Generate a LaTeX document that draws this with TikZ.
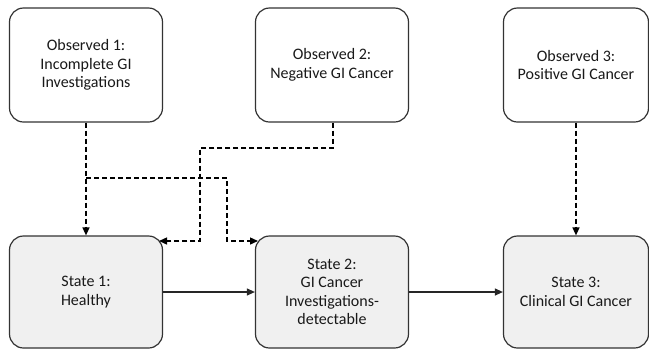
\documentclass[tikz,border=0pt]{standalone}
\usepackage{fontspec}
\setmainfont{Carlito}
\usetikzlibrary{arrows.meta}
\begin{document}
\begin{tikzpicture}[x=1pt,y=-1pt,
  box/.style={draw=black!80, line width=1.2pt, rounded corners=14pt, align=center,
    font=\fontsize{16}{18.5}\selectfont, inner sep=2pt, text=black!90},
  obs/.style={box, fill=white},
  st/.style={box, fill=black!6},
  dashline/.style={draw=black, line width=1.4pt, dash pattern=on 5pt off 3pt},
  tip/.style={-{Triangle[length=8pt,width=7pt]}},
  conn/.style={draw=black!85, line width=1.1pt}]
\useasboundingbox (0,0) rectangle (649,349);
\node[obs, minimum width=153pt, minimum height=114pt] (o1) at (86,65) {Observed 1:\\Incomplete GI\\Investigations};
\node[obs, minimum width=153pt, minimum height=114pt] (o2) at (332,65) {Observed 2:\\Negative GI Cancer};
\node[obs, minimum width=145pt, minimum height=114pt] (o3) at (576,65) {Observed 3:\\Positive GI Cancer};
\node[st, minimum width=153pt, minimum height=112pt] (s1) at (86,292) {State 1:\\Healthy};
\node[st, minimum width=153pt, minimum height=112pt] (s2) at (332,292) {State 2:\\GI Cancer\\Investigations-\\detectable};
\node[st, minimum width=145pt, minimum height=112pt] (s3) at (576,292) {State 3:\\Clinical GI Cancer};
\coordinate (b1) at (86,178);
\coordinate (b2) at (227,178);
\coordinate (b3) at (227,241);
\coordinate (e2) at (258,241);
\coordinate (c1) at (333,148);
\coordinate (c2) at (200,148);
\coordinate (c3) at (200,241);
\coordinate (e1) at (159,241);
\draw[dashline, tip] (o1.south) -- (s1.north);
\draw[dashline, tip] (b1) -- (b2) -- (b3) -- (e2);
\draw[dashline, tip] (o2.south -| c1) -- (c1) -- (c2) -- (c3) -- (e1);
\draw[dashline, tip] (o3.south) -- (s3.north);
\draw[conn, tip] (s1.east) -- (s2.west);
\draw[conn, tip] (s2.east) -- (s3.west);
\end{tikzpicture}
\end{document}
